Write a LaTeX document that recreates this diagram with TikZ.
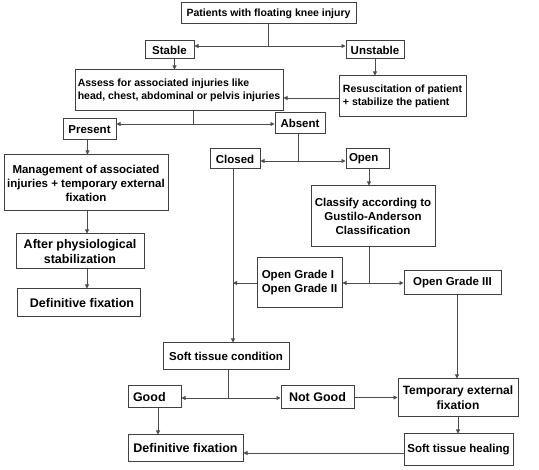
\documentclass[tikz,border=0pt]{standalone}
\usepackage{fontspec}
\setmainfont{Liberation Sans}
\usepackage{tikz}
\usetikzlibrary{arrows.meta,positioning,calc}

\tikzset{
  box/.style={draw=black!75, line width=1pt, inner sep=0pt, align=center,
    font=\bfseries\fontsize{11.5}{14}\selectfont},
  smalltext/.style={font=\bfseries\fontsize{10.5}{13.5}\selectfont},
  bigtext/.style={font=\bfseries\fontsize{12.5}{15.5}\selectfont},
  link/.style={draw=black!70, line width=0.9pt},
  arr/.style={link, -{Triangle[length=4pt,width=4pt]}},
  dbl/.style={link, {Triangle[length=4pt,width=4pt]}-{Triangle[length=4pt,width=4pt]}}
}

\begin{document}
\begin{tikzpicture}[x=1pt,y=-1pt]
\useasboundingbox[fill=white] (0,0) rectangle (539,470);

% top part
\node[box,smalltext,minimum width=175pt,minimum height=21pt] (patients) at (268.5,13.5) {Patients with floating knee injury};
\node[box,minimum width=49pt,minimum height=18pt] (stable) at (169.5,50) {Stable};
\node[box,minimum width=58pt,minimum height=18pt] (unstable) at (375,50) {Unstable};
\node[box,smalltext,align=left,minimum width=208pt,minimum height=41pt] (assess) at (179,90.5) {Assess for associated injuries like\\head, chest, abdominal or pelvis injuries};
\node[box,smalltext,align=left,minimum width=127pt,minimum height=41pt] (resus) at (402.5,96.5) {Resuscitation of patient\\+ stabilize the patient};
\node[box,minimum width=53pt,minimum height=21pt] (present) at (89.5,129.5) {Present};
\node[box,minimum width=50pt,minimum height=21pt] (absent) at (300,123.5) {Absent};

% left column
\node[box,minimum width=164pt,minimum height=56pt] (mgmt) at (86,183) {Management of associated\\injuries + temporary external\\fixation};
\node[box,bigtext,minimum width=128pt,minimum height=35pt] (after) at (80,251.5) {After physiological\\stabilization};
\node[box,bigtext,minimum width=123pt,minimum height=28pt] (deffix) at (78.5,303) {\hspace*{7pt}Definitive fixation};

% right part
\node[box,minimum width=50pt,minimum height=20pt] (closed) at (235,159) {Closed};
\node[box,align=left,inner xsep=3pt,text width=37pt,minimum height=20pt] (open) at (367.5,159) {Open};
\node[box,minimum width=124pt,minimum height=61pt] (classify) at (373,216.5) {Classify according to\\Gustilo-Anderson\\Classification};
\node[box,align=left,minimum width=85pt,minimum height=50pt] (ogone) at (299.5,283) {Open Grade I\\Open Grade II};
\node[box,minimum width=97pt,minimum height=24pt] (ogthree) at (452.5,283) {Open Grade III};

% bottom part
\node[box,minimum width=126pt,minimum height=27pt] (soft) at (226,356.5) {Soft tissue condition};
\node[box,bigtext,align=left,inner xsep=5pt,text width=43pt,minimum height=22pt] (good) at (154.5,397) {Good};
\node[box,bigtext,minimum width=73pt,minimum height=23pt] (notgood) at (317.5,397.5) {Not Good};
\node[box,font=\bfseries\fontsize{12}{15}\selectfont,minimum width=120pt,minimum height=38pt] (temp) at (458,398) {Temporary external\\fixation};
\node[box,bigtext,minimum width=115pt,minimum height=27pt] (deffixb) at (185.5,448.5) {Definitive fixation};
\node[box,minimum width=109pt,minimum height=32pt] (heal) at (458.5,450) {Soft tissue healing};

% branch points
\coordinate (j1) at (269,46);
\coordinate (j2) at (193,124);
\coordinate (j3) at (298,161);
\coordinate (j4) at (369,283);
\coordinate (j5) at (228,398);

% connectors
\draw[link] (patients.south) -- (patients.south |- j1);
\draw[dbl] (stable.east |- j1) -- (unstable.west |- j1);
\draw[arr] ([xshift=5pt]stable.south) -- ([xshift=5pt]stable.south |- assess.north);
\draw[arr] (unstable.south) -- (unstable.south |- resus.north);
\draw[arr] ([yshift=-1.5pt]resus.west) -- ([yshift=-1.5pt]resus.west -| assess.east);

\draw[link] (assess.south -| j2) -- (j2);
\draw[dbl] (present.east |- j2) -- (absent.west |- j2);
\draw[arr] ([xshift=-2pt]present.south) -- ([xshift=-2pt]present.south |- mgmt.north);
\draw[arr] ([xshift=1pt]mgmt.south) -- ([xshift=1pt]mgmt.south |- after.north);
\draw[arr] ([xshift=1pt]mgmt.south |- after.south) -- ([xshift=1pt]mgmt.south |- deffix.north);

\draw[link] (absent.south -| j3) -- (j3);
\draw[dbl] (closed.east |- j3) -- (open.west |- j3);
\draw[arr] ([xshift=1.5pt]open.south) -- ([xshift=1.5pt]open.south |- classify.north);
\draw[link] (classify.south -| j4) -- (j4);
\draw[dbl] (ogone.east |- j4) -- (ogthree.west |- j4);
\draw[arr] (ogone.west |- j4) -- ([xshift=-2pt]closed.south |- j4);
\draw[arr] ([xshift=-2pt]closed.south) -- ([xshift=-2pt]closed.south |- soft.north);
\draw[arr] ([xshift=4.5pt]ogthree.south) -- ([xshift=4.5pt]ogthree.south |- temp.north);

\draw[link] (soft.south -| j5) -- (j5);
\draw[dbl] (good.east |- j5) -- (notgood.west |- j5);
\draw[arr] (notgood.east) -- (notgood.east -| temp.west);
\draw[arr] ([xshift=3.5pt]good.south) -- ([xshift=3.5pt]good.south |- deffixb.north);
\draw[arr] (temp.south) -- (temp.south |- heal.north);
\draw[arr] ([yshift=-3pt]heal.west) -- ([yshift=-3pt]heal.west -| deffixb.east);
\end{tikzpicture}
\end{document}
